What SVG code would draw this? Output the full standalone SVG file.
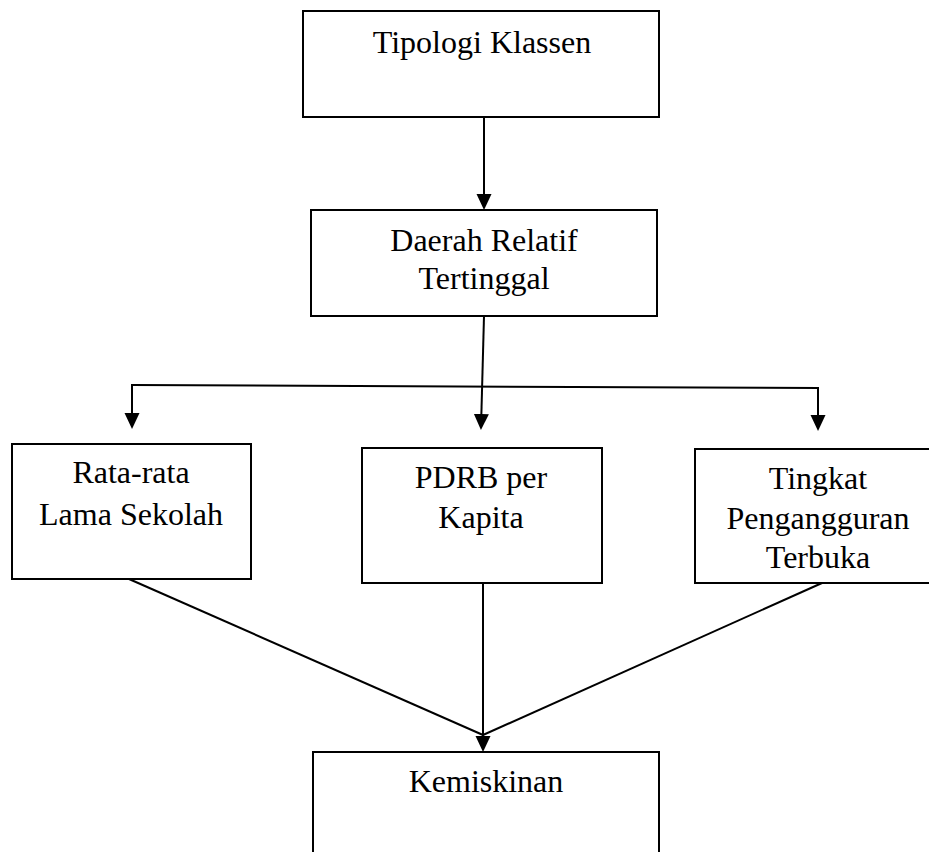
<svg xmlns="http://www.w3.org/2000/svg" width="929" height="852" viewBox="0 0 929 852">
<defs>
<style>
.box{fill:#fff;stroke:#000;stroke-width:2}
.t{font-family:"Liberation Serif","Times New Roman",serif;font-size:32px;fill:#000;text-anchor:middle}
.c{fill:none;stroke:#000;stroke-width:2}
</style>
<marker id="ah" viewBox="0 0 16 16" refX="14" refY="8" markerWidth="16" markerHeight="16" markerUnits="userSpaceOnUse" orient="auto">
<path d="M0,0.5 L16,8 L0,15.5 z" fill="#000"/>
</marker>
</defs>
<rect width="929" height="852" fill="#fff"/>
<g id="connectors">
<path class="c" d="M484,117 L484,208" marker-end="url(#ah)"/>
<path class="c" d="M484,316 L481,428" marker-end="url(#ah)"/>
<path class="c" d="M131,385 L819,388"/>
<path class="c" d="M132,385 L132,427" marker-end="url(#ah)"/>
<path class="c" d="M818,388 L818,429" marker-end="url(#ah)"/>
<path class="c" d="M129,579 L483,735"/>
<path class="c" d="M822,583 L483,735"/>
<path class="c" d="M483,583 L483,750" marker-end="url(#ah)"/>
</g>
<g id="tipologi">
<rect class="box" x="303" y="11" width="356" height="106"/>
<text class="t" x="482" y="53">Tipologi Klassen</text>
</g>
<g id="daerah">
<rect class="box" x="311" y="210" width="346" height="106"/>
<text class="t" x="484" y="251">Daerah Relatif</text>
<text class="t" x="484" y="289">Tertinggal</text>
</g>
<g id="rata">
<rect class="box" x="12" y="444" width="239" height="135"/>
<text class="t" x="131" y="483">Rata-rata</text>
<text class="t" x="131" y="525">Lama Sekolah</text>
</g>
<g id="pdrb">
<rect class="box" x="362" y="448" width="240" height="135"/>
<text class="t" x="481" y="488">PDRB per</text>
<text class="t" x="481" y="528">Kapita</text>
</g>
<g id="tingkat">
<rect class="box" x="695" y="449" width="250" height="134"/>
<text class="t" x="818" y="489">Tingkat</text>
<text class="t" x="818" y="529">Pengangguran</text>
<text class="t" x="818" y="568">Terbuka</text>
</g>
<g id="kemiskinan">
<rect class="box" x="313" y="752" width="346" height="120"/>
<text class="t" x="486" y="792">Kemiskinan</text>
</g>
</svg>
